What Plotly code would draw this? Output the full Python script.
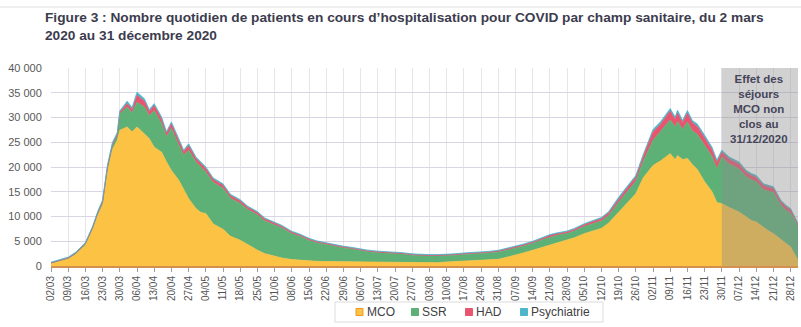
import plotly.graph_objects as go

# Daily patients in hospital for COVID, by care sector (2020)
dates = [
    "2020-03-02", "2020-03-05", "2020-03-09", "2020-03-12", "2020-03-16", "2020-03-19",
    "2020-03-21", "2020-03-23", "2020-03-25", "2020-03-27", "2020-03-29", "2020-03-30",
    "2020-04-02", "2020-04-04", "2020-04-06", "2020-04-09", "2020-04-11", "2020-04-13",
    "2020-04-16", "2020-04-18", "2020-04-20", "2020-04-23", "2020-04-25", "2020-04-27",
    "2020-04-30", "2020-05-02", "2020-05-04", "2020-05-07", "2020-05-11", "2020-05-14",
    "2020-05-18", "2020-05-21", "2020-05-25", "2020-05-28", "2020-06-01", "2020-06-04",
    "2020-06-08", "2020-06-11", "2020-06-15", "2020-06-18", "2020-06-22", "2020-06-25",
    "2020-06-29", "2020-07-02", "2020-07-06", "2020-07-09", "2020-07-13", "2020-07-16",
    "2020-07-20", "2020-07-23", "2020-07-27", "2020-07-30", "2020-08-03", "2020-08-06",
    "2020-08-10", "2020-08-13", "2020-08-17", "2020-08-20", "2020-08-24", "2020-08-27",
    "2020-08-31", "2020-09-03", "2020-09-07", "2020-09-10", "2020-09-14", "2020-09-17",
    "2020-09-21", "2020-09-24", "2020-09-28", "2020-10-01", "2020-10-05", "2020-10-08",
    "2020-10-12", "2020-10-15", "2020-10-19", "2020-10-22", "2020-10-26", "2020-10-29",
    "2020-11-02", "2020-11-05", "2020-11-09", "2020-11-11", "2020-11-12", "2020-11-14",
    "2020-11-16", "2020-11-18", "2020-11-20", "2020-11-23", "2020-11-26", "2020-11-28",
    "2020-11-30", "2020-12-03", "2020-12-07", "2020-12-10", "2020-12-12", "2020-12-14",
    "2020-12-17", "2020-12-19", "2020-12-21", "2020-12-24", "2020-12-26", "2020-12-28",
    "2020-12-31",
]

mco = [
    500, 850, 1400, 2300, 4200, 7400,
    10200, 12300, 19200, 23500, 25400, 27400,
    28100, 27100, 28100, 26700, 25700, 24000,
    23000, 21000, 19300, 17300, 15300, 13600,
    11600, 10800, 10600, 8500, 7400, 6000,
    5200, 4300, 3200, 2500, 1950, 1600,
    1300, 1150, 1000, 950, 900, 880,
    850, 820, 800, 780, 760, 750,
    720, 700, 680, 620, 600, 650,
    800, 880, 950, 1050, 1150, 1250,
    1350, 1700, 2160, 2600, 3170, 3600,
    4180, 4700, 5190, 5700, 6540, 7000,
    7600, 8700, 10900, 12600, 14600, 17800,
    20300, 21200, 22700, 21500, 22300, 21500,
    21700, 20500, 19500, 17000, 15000, 12800,
    12600, 11800, 10900, 9900, 9200, 8900,
    7800, 7100, 6540, 5400, 4500, 3840,
    1150,
]

ssr = [
    100, 150, 200, 250, 300, 400,
    450, 600, 700, 800, 900, 3300,
    4000, 3800, 5000, 5400, 4700, 7400,
    5800, 5100, 8500, 7100, 7100, 9800,
    9400, 9200, 8350, 8400, 8300, 7700,
    7450, 7100, 7150, 6600, 6400, 6100,
    5200, 4900, 4170, 3750, 3420, 3100,
    2800, 2640, 2320, 2100, 1930, 1890,
    1830, 1700, 1480, 1450, 1420, 1370,
    1270, 1290, 1380, 1350, 1360, 1380,
    1490, 1440, 1430, 1410, 1390, 1550,
    1660, 1500, 1360, 1360, 1450, 1500,
    1500, 1530, 2050, 2150, 2500, 3300,
    5100, 5900, 6800, 6600, 6900, 6100,
    7400, 6800, 7100, 7400, 7100, 6800,
    9400, 8800, 8700, 8100, 8200, 8100,
    7600, 8000, 8310, 6900, 6800, 6800,
    6900,
]

had = [
    30, 30, 40, 50, 60, 80,
    100, 150, 200, 250, 300, 350,
    700, 700, 1400, 1200, 800, 1000,
    900, 700, 900, 900, 700, 900,
    700, 700, 700, 600, 600, 500,
    500, 450, 400, 400, 350, 300,
    300, 250, 250, 230, 220, 210,
    200, 190, 180, 170, 170, 160,
    160, 160, 150, 150, 150, 150,
    150, 150, 160, 160, 170, 170,
    180, 200, 220, 220, 250, 260,
    300, 300, 320, 330, 350, 380,
    450, 500, 600, 700, 800, 1000,
    1700, 1500, 1800, 1500, 1700, 1350,
    1750, 1600, 1600, 1500, 1400, 1300,
    1000, 1000, 1000, 900, 900, 900,
    850, 850, 800, 700, 700, 650,
    350,
]

psy = [
    150, 150, 150, 160, 180, 220,
    250, 300, 350, 400, 400, 300,
    500, 400, 600, 500, 400, 400,
    400, 300, 400, 400, 300, 400,
    300, 300, 350, 300, 300, 300,
    250, 250, 250, 200, 200, 200,
    200, 200, 180, 170, 160, 160,
    150, 150, 150, 150, 140, 140,
    140, 140, 140, 130, 130, 130,
    130, 130, 140, 140, 150, 150,
    150, 160, 170, 170, 180, 190,
    200, 200, 200, 210, 220, 220,
    250, 270, 350, 350, 400, 400,
    500, 500, 500, 500, 550, 450,
    550, 500, 500, 500, 500, 500,
    400, 400, 400, 400, 400, 400,
    350, 350, 350, 300, 300, 310,
    200,
]

series_names = ["MCO", "SSR", "HAD", "Psychiatrie"]
series_values = [mco, ssr, had, psy]
series_colors = ["#FBC244", "#5DB176", "#E9546E", "#4DB6CB"]
legend_edges = ["#EE9A2E", "#5DB176", "#E9546E", "#4DB6CB"]

tick_labels = [
    "02/03", "09/03", "16/03", "23/03", "30/03", "06/04", "13/04", "20/04", "27/04",
    "04/05", "11/05", "18/05", "25/05", "01/06", "08/06", "15/06", "22/06", "29/06",
    "06/07", "13/07", "20/07", "27/07", "03/08", "10/08", "17/08", "24/08", "31/08",
    "07/09", "14/09", "21/09", "28/09", "05/10", "12/10", "19/10", "26/10", "02/11",
    "09/11", "16/11", "23/11", "30/11", "07/12", "14/12", "21/12", "28/12",
]
tick_dates = ["2020-%s-%s" % (t[3:], t[:2]) for t in tick_labels]

title_text = ("Figure 3 : Nombre quotidien de patients en cours d’hospitalisation pour COVID "
              "par champ sanitaire, du 2 mars<br>2020 au 31 décembre 2020")
shade_text = "Effet des<br>séjours<br>MCO non<br>clos au<br>31/12/2020"
shade_start, shade_end = "2020-11-30", "2020-12-31"

# page geometry (pixels)
W, H = 801, 327
ML, MR, MT, MB = 51, 3, 68, 61
PW, PH = W - ML - MR, H - MT - MB


def px(x):
    return (x - ML) / PW


def py(y):
    return (H - MB - y) / PH


FONT = "Liberation Sans, Arial, sans-serif"

fig = go.Figure()
for name, vals, col in zip(series_names, series_values, series_colors):
    fig.add_trace(go.Scatter(
        x=dates, y=vals, name=name, stackgroup="one", mode="lines",
        line=dict(color=col, width=0.8), fillcolor=col, showlegend=False,
    ))

shapes = [
    # grey band over the last month
    dict(type="rect", xref="x", yref="y", x0=shade_start, x1=shade_end, y0=0, y1=40000,
         fillcolor="rgba(140,140,140,0.40)", line=dict(width=0), layer="above"),
    # thin rule at the very top
    dict(type="line", xref="paper", yref="paper", x0=px(0), x1=px(W), y0=py(7), y1=py(7),
         line=dict(color="#f0f0f0", width=2)),
    # legend frame
    dict(type="rect", xref="paper", yref="paper", x0=px(335), x1=px(603), y0=py(302), y1=py(322),
         line=dict(color="#dcdcdc", width=1), fillcolor="white"),
]

annotations = [
    dict(text="<b>%s</b>" % title_text, xref="paper", yref="paper", x=px(43), y=py(8),
         xanchor="left", yanchor="top", align="left", showarrow=False,
         font=dict(family=FONT, size=13.7, color="#3c3c4e")),
    dict(text="<b>%s</b>" % shade_text, xref="paper", yref="paper", x=px(759), y=py(71),
         xanchor="center", yanchor="top", align="center", showarrow=False,
         font=dict(family=FONT, size=11.5, color="#45455a")),
]

legend_sq_x = [359.5, 415, 469, 524]
for name, col, edge, sx in zip(series_names, series_colors, legend_edges, legend_sq_x):
    shapes.append(dict(type="rect", xref="paper", yref="paper",
                       x0=px(sx - 3.5), x1=px(sx + 3.5), y0=py(308.5), y1=py(315.5),
                       fillcolor=col, line=dict(color=edge, width=1)))
    annotations.append(dict(text=name, xref="paper", yref="paper", x=px(sx + 5), y=py(312),
                            xanchor="left", yanchor="middle", showarrow=False,
                            font=dict(family=FONT, size=12, color="#404040")))

fig.update_layout(
    width=W, height=H,
    margin=dict(l=ML, r=MR, t=MT, b=MB),
    paper_bgcolor="white", plot_bgcolor="white",
    separators=", ",
    showlegend=False,
    shapes=shapes, annotations=annotations,
    font=dict(family=FONT, color="#555555"),
    xaxis=dict(
        type="date", range=["2020-03-02", "2020-12-31"],
        tickmode="array", tickvals=tick_dates, ticktext=tick_labels, tickangle=-90,
        tickfont=dict(size=10, color="#555555"),
        ticks="outside", ticklen=4, tickcolor="#a0a0a0",
        showgrid=True, gridcolor="#e7e4ee", gridwidth=1,
        showline=True, linecolor="#D49050", linewidth=2,
        zeroline=False,
    ),
    yaxis=dict(
        range=[0, 40000], dtick=5000, tickformat=",d",
        tickfont=dict(size=11, color="#595959"),
        ticks="outside", ticklen=6, tickcolor="rgba(0,0,0,0)",
        showgrid=True, gridcolor="#d9d5e4", gridwidth=1,
        zeroline=False, showline=False,
    ),
)

fig.write_html("out.html")
